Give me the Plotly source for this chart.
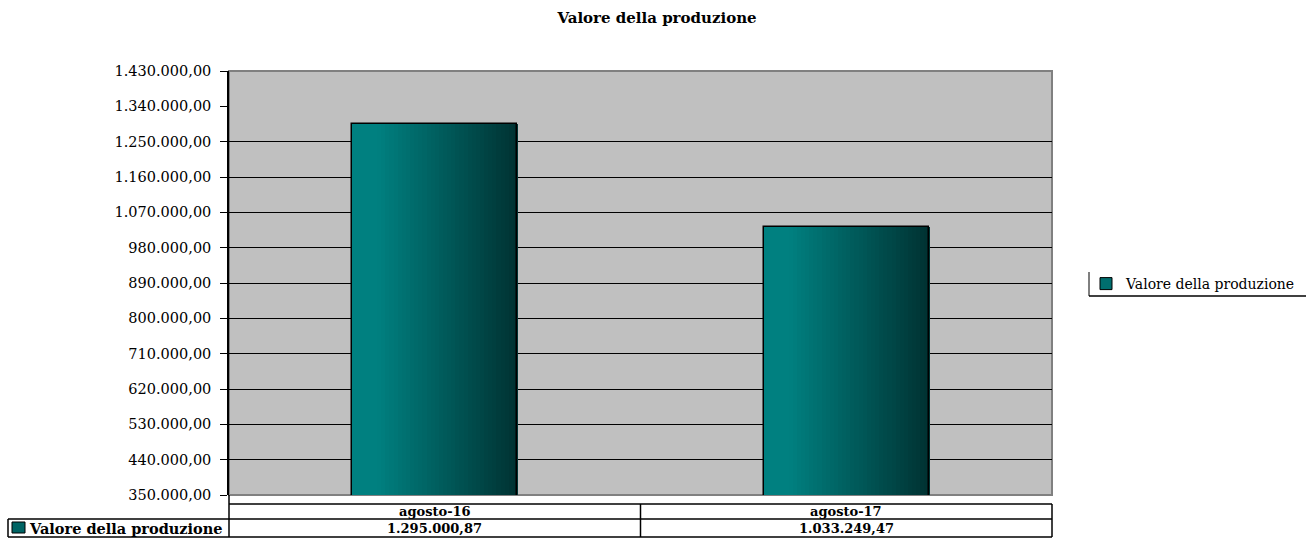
import plotly.graph_objects as go

# ---- data ----
categories = ["agosto-16", "agosto-17"]
values = [1295000.87, 1033249.47]
value_labels = ["1.295.000,87", "1.033.249,47"]
series_name = "Valore della produzione"
title_text = "Valore della produzione"
y_tickvals = [350000, 440000, 530000, 620000, 710000, 800000, 890000, 980000,
              1070000, 1160000, 1250000, 1340000, 1430000]
y_ticktext = ["350.000,00", "440.000,00", "530.000,00", "620.000,00", "710.000,00",
              "800.000,00", "890.000,00", "980.000,00", "1.070.000,00", "1.160.000,00",
              "1.250.000,00", "1.340.000,00", "1.430.000,00"]
grid_vals = [440000, 530000, 620000, 710000, 800000, 890000, 980000,
             1070000, 1160000, 1250000]

FONT = "DejaVu Serif"
LIGHT = (0, 128, 128)
DARK = (0, 50, 50)
BAR_W = 0.4
N = 40

fig = go.Figure()


def shade(t):
    if t < 0.15:
        f = 0.0
    else:
        f = (t - 0.15) / 0.85
    c = [round(LIGHT[k] + (DARK[k] - LIGHT[k]) * f) for k in range(3)]
    return "rgb(%d,%d,%d)" % tuple(c)


step = BAR_W / N
for i in range(N):
    fig.add_trace(go.Bar(
        x=categories, y=values,
        width=step * 1.3, offset=-BAR_W / 2 + i * step,
        marker=dict(color=shade((i + 0.5) / N), line=dict(width=0)),
        showlegend=False, hoverinfo="skip",
    ))

# outline
fig.add_trace(go.Bar(
    x=categories, y=values, width=BAR_W,
    marker=dict(color="rgba(0,0,0,0)", line=dict(color="black", width=1.5)),
    showlegend=False, name=series_name,
))

# legend-only entry
fig.add_trace(go.Bar(
    x=[categories[0]], y=[None], name=series_name,
    marker=dict(color="rgb(0,110,110)", line=dict(color="black", width=1)),
    showlegend=True,
))

PW, PH = 823, 424  # plot area size in px
L, T = 229, 71


def px(x):
    return (x - L) / PW


def py(y):
    return (T + PH - y) / PH


shapes = []
shapes.append(dict(type="rect", xref="paper", yref="paper", x0=0, y0=0, x1=1, y1=1,
                   line=dict(color="#808080", width=2), layer="below"))

yt0, yt1, yt2 = py(504), py(519), py(537)
xl = px(8)
line = dict(color="black", width=1.5)
shapes += [
    dict(type="line", xref="paper", yref="paper", x0=0, x1=1, y0=yt0, y1=yt0, line=line),
    dict(type="line", xref="paper", yref="paper", x0=xl, x1=1, y0=yt1, y1=yt1, line=line),
    dict(type="line", xref="paper", yref="paper", x0=xl, x1=1, y0=yt2, y1=yt2, line=line),
    dict(type="line", xref="paper", yref="paper", x0=xl, x1=xl, y0=yt1, y1=yt2, line=line),
    dict(type="line", xref="paper", yref="paper", x0=0, x1=0, y0=0, y1=yt2, line=line),
    dict(type="line", xref="paper", yref="paper", x0=0.5, x1=0.5, y0=yt0, y1=yt2, line=line),
    dict(type="line", xref="paper", yref="paper", x0=1, x1=1, y0=yt0, y1=yt2, line=line),
]
shapes.append(dict(type="rect", xref="paper", yref="paper",
                   x0=px(12), x1=px(25), y0=py(533), y1=py(522),
                   fillcolor="rgb(0,100,100)", line=dict(color="black", width=1)))
shapes += [
    dict(type="line", xref="paper", yref="paper", x0=px(1089), x1=px(1089),
         y0=py(296), y1=py(272), line=dict(color="black", width=1)),
    dict(type="line", xref="paper", yref="paper", x0=px(1089), x1=px(1306),
         y0=py(296), y1=py(296), line=dict(color="black", width=1.5)),
]

annotations = []
for i, cat in enumerate(categories):
    xc = 0.25 + 0.5 * i
    annotations.append(dict(xref="paper", yref="paper", x=xc, y=(yt0 + yt1) / 2,
                            text="<b>" + cat + "</b>", showarrow=False, xanchor="center",
                            yanchor="middle",
                            font=dict(family=FONT, size=13, color="black")))
    annotations.append(dict(xref="paper", yref="paper", x=xc, y=(yt1 + yt2) / 2,
                            text="<b>" + value_labels[i] + "</b>", showarrow=False,
                            xanchor="center", yanchor="middle",
                            font=dict(family=FONT, size=13, color="black")))
annotations.append(dict(xref="paper", yref="paper", x=px(27), y=(yt1 + yt2) / 2,
                        text="<b>" + series_name + "</b>", showarrow=False,
                        xanchor="left", yanchor="middle",
                        font=dict(family=FONT, size=14.5, color="black")))

fig.update_layout(
    width=1308, height=540,
    margin=dict(l=L, r=1308 - L - PW, t=T, b=540 - T - PH, autoexpand=False),
    paper_bgcolor="white", plot_bgcolor="#C0C0C0",
    barmode="overlay", bargap=0,
    title=dict(text="<b>" + title_text + "</b>", x=px(657), xref="paper", xanchor="center",
               y=1 - 18 / 540, yref="container", yanchor="middle",
               font=dict(family=FONT, size=15, color="black")),
    xaxis=dict(showticklabels=False, showgrid=False, showline=False, ticks="",
               zeroline=False),
    yaxis=dict(range=[350000, 1430000], tickmode="array", tickvals=y_tickvals,
               ticktext=y_ticktext, showgrid=False, zeroline=False,
               showline=True, linecolor="black", linewidth=1.5,
               ticks="outside", ticklen=7, tickcolor="black", tickwidth=1,
               ticklabelstandoff=6,
               tickfont=dict(family=FONT, size=14.5, color="black"),
               minor=dict(tickmode="array", tickvals=grid_vals, showgrid=True,
                          gridcolor="black", gridwidth=1, ticks="")),
    legend=dict(x=px(1086), y=py(284), xanchor="left",
                yanchor="middle", bgcolor="rgba(0,0,0,0)",
                font=dict(family=FONT, size=14, color="black"),
                itemwidth=30),
    shapes=shapes, annotations=annotations,
    showlegend=True,
)

fig.write_html("out.html", config={"displayModeBar": False},
               post_script="document.body.style.margin='0';")
